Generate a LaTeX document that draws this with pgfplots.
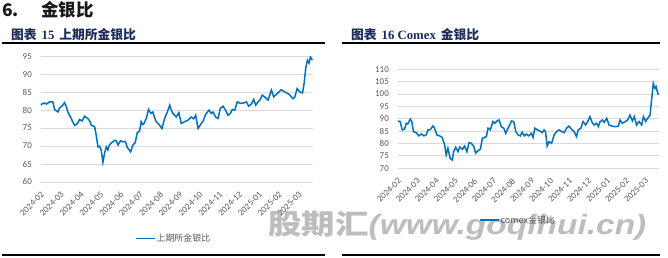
\documentclass[border=0pt]{standalone}
\usepackage{fontspec}
\usepackage{graphicx}
\usepackage{pgfplots}
\pgfplotsset{compat=1.18}
\setmainfont{Carlito}
\newfontfamily\cjk{Noto Sans CJK SC}
\newfontfamily\tnr{Liberation Serif}
\newfontfamily\wmfont{Liberation Sans}
\definecolor{lineblue}{HTML}{0070C0}
\definecolor{gridgray}{HTML}{D9D9D9}
\definecolor{tickgray}{HTML}{595959}
\definecolor{navy}{HTML}{1C2B5A}
\definecolor{wmgray}{HTML}{BDBDBD}

\pgfplotstableread{
x y
0 81.4
0.1 81.8
0.2 82.0
0.3 81.7
0.45 82.3
0.62 82.3
0.71 80.2
0.8 79.8
0.88 79.5
0.96 80.6
1.1 81.2
1.21 82.1
1.30 81.0
1.38 79.5
1.55 77.7
1.65 76.5
1.72 75.8
1.80 76.0
1.89 76.5
1.97 77.4
2.1 77.0
2.22 78.3
2.30 78.0
2.39 77.7
2.50 76.8
2.56 75.8
2.65 75.6
2.73 75.4
2.81 73.1
2.90 69.8
2.98 70.0
3.06 68.9
3.15 65.5
3.23 68.0
3.32 69.8
3.40 68.9
3.47 70.2
3.54 70.7
3.65 71.2
3.75 71.6
3.82 71.5
3.91 70.3
4.04 71.5
4.16 71.2
4.28 71.3
4.38 69.6
4.47 69.0
4.55 68.4
4.66 70.3
4.78 71.0
4.88 73.7
5.0 74.2
5.08 76.8
5.15 76.0
5.22 76.3
5.34 77.7
5.45 80.2
5.52 79.5
5.59 79.1
5.67 79.5
5.75 78.0
5.84 76.8
5.93 76.3
6.01 75.8
6.13 74.9
6.26 77.7
6.40 79.5
6.52 81.4
6.60 80.0
6.68 79.1
6.77 78.6
6.85 78.1
6.98 79.3
7.10 76.3
7.27 76.8
7.44 77.2
7.61 78.1
7.73 77.6
7.83 78.6
7.95 74.9
8.11 76.3
8.20 76.9
8.33 78.8
8.50 80.0
8.62 79.1
8.70 79.5
8.84 78.1
8.96 77.7
9.07 80.5
9.21 81.1
9.34 80.0
9.46 78.6
9.58 79.1
9.68 80.2
9.80 80.0
9.93 82.3
10.09 81.9
10.25 82.0
10.39 82.3
10.50 81.1
10.64 81.7
10.76 83.0
10.86 81.4
10.98 82.3
11.09 83.0
11.19 84.2
11.31 83.7
11.48 82.8
11.65 85.6
11.77 83.7
11.90 84.4
12.15 85.7
12.32 85.1
12.49 84.6
12.58 84.2
12.74 83.2
12.83 83.6
12.95 86.0
13.08 85.1
13.22 84.8
13.30 87.4
13.39 92.0
13.47 93.9
13.55 93.1
13.62 94.8
13.72 93.9
}\shfe

\pgfplotstableread{
x y
0.02 89.1
0.14 88.9
0.25 85.5
0.37 85.8
0.46 88.2
0.54 87.9
0.67 89.9
0.75 88.9
0.84 84.8
0.98 84.4
1.12 83.1
1.25 83.9
1.39 83.1
1.51 83.5
1.60 85.5
1.72 85.6
1.86 87.1
1.95 86.2
2.07 83.5
2.21 83.1
2.35 82.5
2.48 79.4
2.56 75.4
2.65 78.1
2.77 74.0
2.88 73.4
2.95 76.7
3.06 78.5
3.18 76.7
3.27 78.6
3.41 77.7
3.53 79.0
3.65 76.7
3.76 80.4
3.88 80.1
4.0 79.0
4.11 76.1
4.23 77.1
4.36 77.7
4.46 82.1
4.58 82.5
4.67 82.8
4.76 86.2
4.88 85.5
5.02 88.9
5.11 88.2
5.23 89.1
5.34 89.5
5.46 86.8
5.59 86.2
5.69 84.1
5.81 86.2
5.90 87.5
5.99 89.1
6.11 88.9
6.22 84.8
6.34 83.5
6.46 83.1
6.55 84.6
6.66 83.1
6.78 83.8
6.90 83.1
7.04 84.1
7.13 82.5
7.22 86.2
7.36 85.5
7.48 85.1
7.61 84.4
7.71 85.5
7.78 84.8
7.87 79.0
7.97 80.8
8.10 80.1
8.24 83.5
8.36 84.8
8.49 85.5
8.62 84.9
8.76 84.4
8.89 86.2
9.01 87.1
9.15 85.8
9.29 84.8
9.41 82.8
9.50 85.5
9.64 86.2
9.76 88.9
9.89 87.5
10.0 88.9
10.12 90.9
10.21 88.9
10.34 87.5
10.47 88.2
10.56 86.8
10.64 88.7
10.77 89.5
10.87 88.6
11.0 90.2
11.12 87.5
11.26 87.1
11.43 86.8
11.61 87.0
11.70 89.5
11.82 88.2
11.96 88.8
12.10 89.5
12.22 91.5
12.35 89.2
12.45 90.9
12.57 87.5
12.70 88.9
12.84 87.5
12.93 90.9
13.05 89.0
13.15 90.2
13.28 91.5
13.36 97.6
13.45 104.3
13.54 102.3
13.60 103.0
13.66 101.0
13.72 99.6
}\comex

\pgfplotsset{
  mystyle/.style={
    scale only axis,
    axis line style={draw=none},
    tick style={draw=none},
    ymajorgrids,
    grid style={gridgray, line width=0.9bp},
    xmin=0, xmax=13.75,
    xtick={0,...,13},
    xticklabels={2024-02,2024-03,2024-04,2024-05,2024-06,2024-07,2024-08,2024-09,2024-10,2024-11,2024-12,2025-01,2025-02,2025-03},
    ticklabel style={font=\fontsize{9}{10}\selectfont, text=tickgray},
    xticklabel style={yshift=-9bp, rotate=45, anchor=north east, inner sep=0pt},
    yticklabel style={inner sep=0pt, xshift=-8.5bp},
    /pgf/number format/assume math mode=true,
    legend style={draw=none, fill=none, inner sep=0pt,
      font=\cjk\fontsize{9}{10}\selectfont, text=tickgray,
      nodes={inner sep=0.8bp}},
    legend image code/.code={\draw[#1] (0bp,0bp) -- (19bp,0bp);},
  }
}

\begin{document}
\begin{tikzpicture}
\path[use as bounding box] (0,0) rectangle (668bp,258bp);

% watermark
\node[anchor=west, inner sep=0pt, text=wmgray] at (268bp,32bp)
  {\scalebox{1.2}[1]{\fontsize{28}{28}\selectfont{\cjk\bfseries 股期汇}{\wmfont\bfseries\itshape (www.goqihui.cn)}}};

% headings
\node[anchor=base west, inner sep=0pt, text=black!90] at (2bp,241.3bp)
  {\cjk\bfseries\fontsize{17.5}{18}\selectfont 6.};
\node[anchor=base west, inner sep=0pt, text=black!90] at (41bp,241.3bp)
  {\cjk\bfseries\fontsize{17.5}{18}\selectfont 金银比};
\node[anchor=base west, inner sep=0pt, text=navy] at (11bp,218.8bp)
  {\fontsize{12.8}{13}\selectfont{\cjk\bfseries 图表}\hspace{5bp}{\tnr\bfseries 15}\hspace{5bp}{\cjk\bfseries 上期所金银比}};
\node[anchor=base west, inner sep=0pt, text=navy] at (351bp,218.8bp)
  {\fontsize{12.8}{13}\selectfont{\cjk\bfseries 图表}\hspace{5bp}{\tnr\bfseries 16 Comex}\hspace{5bp}{\cjk\bfseries 金银比}};
\draw[black, line width=1.3bp] (2bp,215bp) -- (325bp,215bp);
\draw[black, line width=1.3bp] (342bp,215bp) -- (660bp,215bp);
\draw[black, line width=1.3bp] (2bp,3bp) -- (325bp,3bp);
\draw[black, line width=1.3bp] (342bp,3bp) -- (660bp,3bp);

% left chart
\begin{axis}[mystyle,
  at={(40.5bp,76bp)}, anchor=south west,
  width=272.5bp, height=125.7bp,
  ymin=60, ymax=95, ytick={60,65,...,95},
  legend style={at={(0.347,-0.449)}, anchor=west},
]
\addplot[lineblue, line width=1.5bp] table[x=x,y=y] {\shfe};
\addlegendentry{上期所金银比}
\end{axis}

% right chart
\begin{axis}[mystyle,
  at={(397.5bp,89.7bp)}, anchor=south west,
  width=261.5bp, height=99bp,
  ymin=70, ymax=110, ytick={70,75,...,110},
  legend style={at={(0.312,-0.522)}, anchor=west},
]
\addplot[lineblue, line width=1.5bp] table[x=x,y=y] {\comex};
\addlegendentry{comex金银比}
\end{axis}
\end{tikzpicture}
\end{document}
